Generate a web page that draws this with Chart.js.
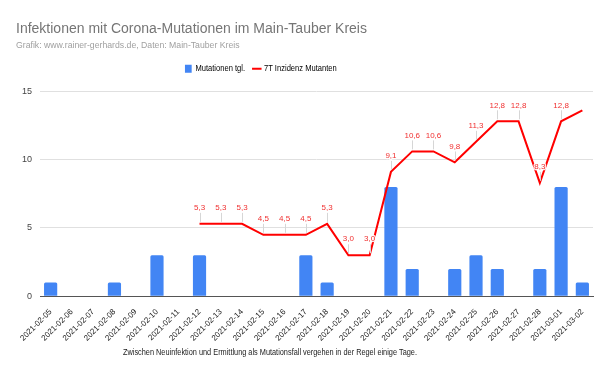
<!DOCTYPE html>
<html lang="de">
<head>
<meta charset="UTF-8">
<title>Infektionen mit Corona-Mutationen im Main-Tauber Kreis</title>
<style>
  html, body { margin: 0; padding: 0; background: #fff; }
  #wrap { width: 600px; height: 376px; position: relative; }
</style>
</head>
<body>
<div id="wrap"><canvas id="chart" width="600" height="376"></canvas></div>
<script src="https://cdn.jsdelivr.net/npm/chart.js"></script>
<script>
// Kategorien (Tage)
const days = [
  '2021-02-05', '2021-02-06', '2021-02-07', '2021-02-08', '2021-02-09',
  '2021-02-10', '2021-02-11', '2021-02-12', '2021-02-13', '2021-02-14',
  '2021-02-15', '2021-02-16', '2021-02-17', '2021-02-18', '2021-02-19',
  '2021-02-20', '2021-02-21', '2021-02-22', '2021-02-23', '2021-02-24',
  '2021-02-25', '2021-02-26', '2021-02-27', '2021-02-28', '2021-03-01',
  '2021-03-02'
];
// Mutationen pro Tag
const mutationsDaily = [1, 0, 0, 1, 0, 3, 0, 3, 0, 0, 0, 0, 3, 1, 0, 0, 8, 2, 0, 2, 3, 2, 0, 2, 8, 1];
// 7-Tage-Inzidenz Mutanten
const incidence7d = [null, null, null, null, null, null, null, 5.3, 5.3, 5.3, 4.5, 4.5, 4.5, 5.3, 3.0, 3.0, 9.1, 10.6, 10.6, 9.8, 11.3, 12.8, 12.8, 8.3, 12.8, 13.6];
const yTicks = [0, 5, 10, 15];

const titleText = 'Infektionen mit Corona-Mutationen im Main-Tauber Kreis';
const subtitleText = 'Grafik: www.rainer-gerhards.de, Daten: Main-Tauber Kreis';
const footnoteText = 'Zwischen Neuinfektion und Ermittlung als Mutationsfall vergehen in der Regel einige Tage.';

const BLUE = '#4285f4';
const RED = '#ff0000';
const FONT = '"Liberation Sans", Arial, sans-serif';

// Beschriftung der Linienpunkte (mit dünner Hilfslinie), Fußnote, Legende schmaler und weiter links
const labelPlugin = {
  id: 'pointLabels',
  beforeLayout(chart) {
    const lg = chart.legend;
    if (lg && !lg._tuned) {
      lg._tuned = true;
      const fit = lg.fit;
      lg.fit = function () { fit.call(this); this.height += 8; };
      const draw = lg.draw;
      lg.draw = function () {
        const c = this.ctx;
        const mid = (this.left + this.right + 10) / 2;
        c.save();
        c.translate(265, 0);
        c.scale(0.84, 1);
        c.translate(-mid, 0);
        draw.call(this);
        c.restore();
      };
    }
  },
  afterDatasetsDraw(chart) {
    const ctx = chart.ctx;
    const meta = chart.getDatasetMeta(1);
    ctx.save();
    ctx.font = '8px ' + FONT;
    ctx.textAlign = 'center';
    ctx.textBaseline = 'bottom';
    ctx.lineJoin = 'round';
    meta.data.forEach((pt, i) => {
      const v = incidence7d[i];
      if (v === null || i === incidence7d.length - 1) return;
      ctx.strokeStyle = '#d6d6d6';
      ctx.lineWidth = 1;
      ctx.beginPath();
      ctx.moveTo(Math.round(pt.x) + 0.5, pt.y - 2);
      ctx.lineTo(Math.round(pt.x) + 0.5, pt.y - 11);
      ctx.stroke();
      const txt = v.toFixed(1).replace('.', ',');
      ctx.strokeStyle = 'rgba(255,255,255,0.9)';
      ctx.lineWidth = 2.5;
      ctx.strokeText(txt, pt.x, pt.y - 12);
      ctx.fillStyle = '#f03030';
      ctx.fillText(txt, pt.x, pt.y - 12);
    });
    ctx.restore();
  },
  afterDraw(chart) {
    const ctx = chart.ctx;
    ctx.save();
    ctx.font = '9px ' + FONT;
    ctx.fillStyle = '#222';
    ctx.textAlign = 'center';
    ctx.textBaseline = 'middle';
    ctx.fillText(footnoteText, 270, 353, 294);
    ctx.restore();
  }
};

const ctx = document.getElementById('chart').getContext('2d');
new Chart(ctx, {
  data: {
    labels: days,
    datasets: [{
      type: 'bar',
      label: 'Mutationen tgl.',
      data: mutationsDaily,
      backgroundColor: BLUE,
      borderRadius: 1.5,
      borderSkipped: 'bottom',
      categoryPercentage: 1,
      barPercentage: 0.62,
      order: 1
    }, {
      type: 'line',
      label: '7T Inzidenz Mutanten',
      data: incidence7d,
      borderColor: RED,
      backgroundColor: RED,
      borderWidth: 2,
      pointRadius: 0,
      tension: 0,
      spanGaps: false,
      order: 0
    }]
  },
  options: {
    responsive: false,
    animation: false,
    devicePixelRatio: 1,
    layout: { padding: { left: 16, right: 7, bottom: 30 } },
    plugins: {
      title: {
        display: true,
        text: titleText,
        align: 'start',
        color: '#757575',
        font: { size: 14, family: FONT, weight: 'normal' },
        padding: { top: 21, bottom: 3 }
      },
      subtitle: {
        display: true,
        text: subtitleText,
        align: 'start',
        color: '#a0a0a0',
        font: { size: 8.7, family: FONT },
        padding: { bottom: 3 }
      },
      legend: {
        display: true,
        labels: {
          color: '#222',
          font: { size: 9, family: FONT },
          boxWidth: 8,
          boxHeight: 8,
          padding: 10,
          usePointStyle: true,
          generateLabels(chart) {
            return chart.data.datasets.map((ds, i) => ({
              text: ds.label,
              fillStyle: i === 0 ? BLUE : RED,
              strokeStyle: i === 0 ? BLUE : RED,
              lineWidth: i === 0 ? 0 : 2,
              pointStyle: i === 0 ? 'rect' : 'line',
              datasetIndex: i,
              hidden: false
            }));
          }
        }
      },
      tooltip: { enabled: false }
    },
    scales: {
      x: {
        grid: { display: false },
        border: { color: '#555', width: 1 },
        ticks: {
          color: '#222',
          font: { size: 8, family: FONT },
          minRotation: 45,
          maxRotation: 45,
          autoSkip: false
        }
      },
      y: {
        min: 0,
        max: 15,
        afterBuildTicks(scale) { scale.ticks = yTicks.map(v => ({ value: v })); },
        afterFit(scale) { scale.width = 24; },
        grid: { color: '#e0e0e0', drawTicks: false },
        border: { display: false },
        ticks: {
          color: '#444',
          padding: 8,
          font: { size: 9, family: FONT }
        }
      }
    }
  },
  plugins: [labelPlugin]
});
</script>
</body>
</html>
